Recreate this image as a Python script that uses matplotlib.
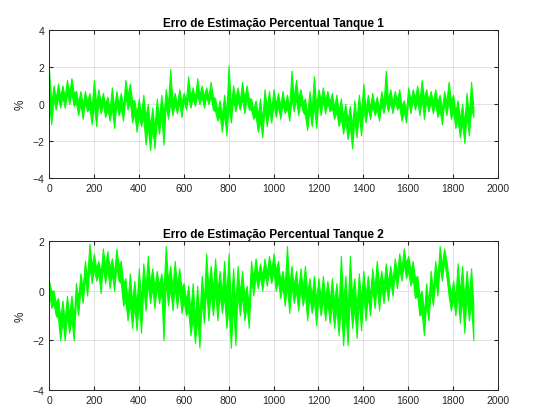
import numpy as np
import matplotlib
matplotlib.use('Agg')
import matplotlib.pyplot as plt

plt.rcParams['font.family'] = ['Liberation Sans', 'DejaVu Sans']

# envelope of each error signal: peak, centre and trough every 20 samples
x_env = list(range(0, 1881, 20))

hi1 = [1.9, 1.0, 1.1, 1.0, 1.3, 1.4, 0.7, 0.7, 0.7, 0.6,
       1.3, 0.8, 0.6, 0.4, 0.9, 0.7, 0.6, 1.3, 1.1, 0.2,
       0.3, 0.5, 0.0, -0.2, 0.3, 0.5, 0.8, 1.9, 0.6, 0.8,
       0.6, 1.5, 0.9, 1.4, 1.0, 0.9, 1.2, 0.3, 0.2, 0.5,
       2.1, 1.0, 0.9, 1.2, 1.0, 0.3, 0.2, 0.3, 0.8, 0.7,
       0.8, 0.6, 0.7, 0.5, 1.8, 1.3, 0.8, 0.3, 0.7, 1.5,
       0.8, 0.9, 0.7, 0.6, 0.5, 0.3, 0.0, -0.1, 0.2, 0.5,
       1.1, 0.5, 0.6, 0.4, 0.7, 1.8, 0.8, 0.7, 0.8, 0.2,
       0.9, 0.8, 1.0, 1.3, 0.8, 0.7, 0.8, 0.5, 0.7, 1.2,
       0.5, 0.2, 0.0, 0.6, 1.2]
mid1 = [0.0, 0.3, 0.4, 0.4, 0.6, 0.6,
        0.1, 0.0, 0.1, -0.2, 0.0,
        0.1, 0.0, -0.3, -0.2, 0.0,
        -0.2, 0.5, 0.2, -0.5, -0.6,
        -0.7, -1.2, -1.3, -0.8, -0.6,
        0.0, 0.1, 0.0, 0.1, 0.2,
        0.4, 0.3, 0.5, 0.4, 0.4,
        0.4, -0.4, -0.6, -0.5, -0.1,
        0.3, 0.2, 0.3, 0.3, -0.3,
        -0.6, -0.9, -0.2, -0.3, 0.0,
        -0.1, 0.0, -0.2, 0.3, 0.3,
        0.1, -0.6, -0.3, -0.1, 0.2,
        0.2, 0.1, -0.2, -0.4, -0.7,
        -0.9, -1.2, -0.8, -0.5, -0.3,
        -0.2, -0.1, -0.3, 0.0, 0.2,
        0.1, 0.2, -0.1, -0.4, 0.2,
        0.3, 0.2, 0.3, 0.2, 0.1,
        0.1, -0.3, 0.1, 0.2, -0.4,
        -0.8, -1.0, -0.6, -0.2]
lo1 = [-1.1, -0.3, -0.2, -0.2, 0.0, -0.1, -0.6, -0.8, -0.4, -1.1,
       -1.2, -0.5, -0.7, -0.9, -1.3, -0.6, -0.9, -0.3, -1.0, -1.5,
       -1.2, -2.2, -2.5, -2.4, -1.6, -2.2, -0.8, -0.6, -0.5, -0.7,
       -0.3, -0.2, -0.1, 0.0, -0.2, 0.0, -0.3, -0.9, -1.5, -1.7,
       -1.0, -0.4, -0.3, -0.5, -0.3, -0.8, -1.5, -1.8, -1.2, -1.0,
       -0.7, -0.8, -0.5, -0.9, -0.4, -0.6, -0.4, -1.4, -1.2, -1.3,
       -0.6, -0.5, -0.4, -0.8, -1.2, -1.6, -1.9, -2.4, -1.8, -1.7,
       -1.0, -0.8, -0.6, -0.9, -0.5, -0.4, -0.5, -0.3, -0.9, -1.0,
       -0.5, -0.3, -0.6, -0.8, -0.4, -0.5, -0.7, -1.1, -0.6, -0.8,
       -1.3, -1.8, -2.1, -1.7, -0.7]

hi2 = [0.4, 0.0, -0.3, -0.4, -0.2, -0.2, 0.3, 0.7, 1.2, 1.9,
       1.5, 1.2, 1.7, 1.6, 1.3, 1.7, 1.2, 0.5, 0.7, 0.4,
       0.9, 1.1, 1.4, 0.9, 0.8, 0.7, 1.8, 1.0, 1.2, 0.9,
       0.3, 0.2, 0.3, 0.2, 0.6, 1.5, 1.0, 1.3, 0.8, 1.2,
       1.5, 0.9, 1.0, 0.8, 0.2, 1.2, 1.3, 1.1, 1.3, 1.4,
       1.5, 1.2, 0.8, 1.8, 1.0, 0.8, 0.9, 1.0, 0.5, 0.6,
       0.5, 0.6, 0.4, 0.5, 0.3, 1.4, 0.6, 1.4, 0.5, 0.7,
       0.8, 0.6, 0.9, 1.2, 0.8, 1.1, 1.0, 1.3, 1.5, 1.7,
       1.4, 1.2, 0.6, 0.0, 0.3, 0.8, 1.2, 1.8, 1.7, 0.5,
       0.4, 1.1, 1.0, 0.8, 0.9]
mid2 = [0.0, -0.5, -1.1, -1.2, -1.0, -1.1,
        -0.3, 0.1, 0.5, 1.0, 0.9,
        0.7, 1.0, 0.9, 0.7, 1.0,
        0.3, -0.4, -0.5, -0.6, -0.4,
        0.1, 0.3, 0.1, 0.2, 0.0,
        0.4, 0.1, 0.2, 0.1, -0.4,
        -0.8, -1.1, -1.1, -0.4, 0.1,
        0.0, 0.0, -0.1, -0.2, -0.6,
        -0.6, -0.1, -0.2, -0.6, 0.5,
        0.6, 0.6, 0.7, 0.8, 0.8,
        0.4, 0.2, 0.2, 0.2, 0.0,
        0.1, -0.1, -0.2, -0.4, -0.3,
        -0.3, -0.4, -0.5, -0.7, -0.5,
        -0.8, -0.2, -0.7, -0.4, -0.2,
        -0.2, 0.1, 0.2, 0.2, 0.3,
        0.4, 0.7, 0.9, 1.1, 0.8,
        0.5, -0.2, -0.9, -0.5, 0.0,
        0.5, 1.0, 1.2, -0.2, -0.3,
        -0.1, -0.3, -0.2, -0.5]
lo2 = [-0.7, -1.0, -2.0, -2.0, -1.7, -2.0, -1.0, -0.5, -0.2, 0.3,
       0.4, -0.1, 0.3, 0.1, 0.0, 0.4, -0.6, -1.2, -1.5, -1.6,
       -1.7, -0.8, -0.5, -0.7, -0.5, -2.0, -0.6, -0.8, -0.7, -0.9,
       -1.0, -1.8, -2.1, -2.3, -1.3, -1.2, -1.0, -1.2, -0.9, -1.5,
       -2.3, -2.2, -1.0, -1.2, -1.5, -0.2, 0.1, 0.0, 0.2, 0.3,
       0.0, -0.3, -0.6, -0.9, -0.5, -0.8, -0.6, -1.2, -0.9, -1.4,
       -1.0, -1.2, -1.3, -1.5, -1.8, -2.2, -2.2, -1.5, -1.9, -1.6,
       -1.2, -1.0, -0.7, -0.8, -0.5, -0.4, -0.2, 0.1, 0.4, 0.5,
       0.2, -0.3, -1.0, -1.8, -1.2, -0.6, -0.2, 0.4, 0.6, -0.8,
       -1.0, -1.3, -1.7, -1.2, -2.0]

titles = ['Erro de Estimação Percentual Tanque 1',
          'Erro de Estimação Percentual Tanque 2']


def band(hi, mid, lo):
    # jagged band: peak above the centre, then trough below it, in each block
    xs, top, bot = [], [], []
    for x, h, m, l in zip(x_env, hi, mid, lo):
        xs += [x, x + 10]
        top += [h, m]
        bot += [m, l]
    return xs, top, bot


fig = plt.figure(figsize=(5.38, 4.14), dpi=100)
ax1 = fig.add_axes([0.0911, 0.5676, 0.8346, 0.3575])
ax2 = fig.add_axes([0.0911, 0.0556, 0.8346, 0.3599])

for ax, hi, mid, lo, title, ylim in [(ax1, hi1, mid1, lo1, titles[0], (-4, 4)),
                                     (ax2, hi2, mid2, lo2, titles[1], (-4, 2))]:
    xs, top, bot = band(hi, mid, lo)
    ax.fill_between(xs, bot, top, color='#00ff00', lw=0.8)
    ax.set_xlim(0, 2000)
    ax.set_ylim(*ylim)
    ax.set_xticks(range(0, 2001, 200))
    ax.set_yticks(range(ylim[0], ylim[1] + 1, 2))
    ax.grid(True, color='#dcdcdc', lw=0.6)
    ax.set_axisbelow(True)
    ax.tick_params(direction='in', labelsize=7.5, colors='#262626',
                   length=3, top=True, right=True, labeltop=False, labelright=False)
    for s in ax.spines.values():
        s.set_color('#262626')
        s.set_linewidth(0.7)
    ax.set_title(title, fontsize=8.5, fontweight='bold', pad=3)
    ax.set_ylabel('%', fontsize=8.5, color='#262626', labelpad=4)

fig.savefig('out.png', dpi=100)
